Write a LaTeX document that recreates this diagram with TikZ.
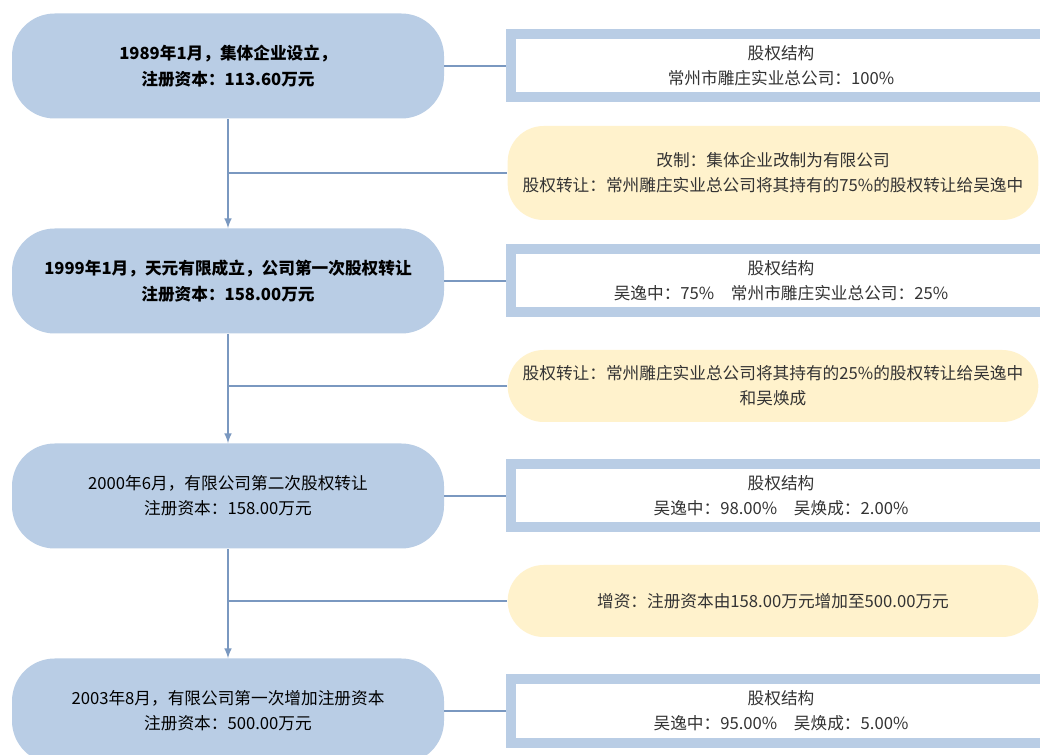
\documentclass[tikz,border=0pt]{standalone}
\usepackage{fontspec}
\setmainfont{Noto Sans CJK SC}
\usetikzlibrary{arrows}
\definecolor{stageblue}{RGB}{185,205,229}
\definecolor{noteyellow}{RGB}{255,242,204}
\definecolor{linkblue}{RGB}{122,152,192}
\begin{document}
\begin{tikzpicture}[x=0.75pt,y=-0.75pt,
	stage/.style={fill=stageblue,rounded corners=32pt,minimum width=324pt,minimum height=78.75pt,align=center,text=black,font=\fontsize{12.5}{19}\selectfont},
	share/.style={draw=stageblue,line width=7.5pt,fill=white,minimum width=405pt,minimum height=47.25pt,align=center,text=black!80,font=\fontsize{12.5}{19}\selectfont},
	note/.style={fill=noteyellow,rounded corners=27pt,minimum width=398pt,minimum height=54pt,inner sep=2pt,align=center,text=black!80,font=\fontsize{12.5}{19}\selectfont},
	link/.style={draw=linkblue,line width=1.5pt}]
	\useasboundingbox[fill=white] (0,0) rectangle (1040,755);
	%% the stages
	\node[stage] (stage1) at (228,66) {\bfseries 1989年1月，集体企业设立，\\ \bfseries 注册资本：113.60万元};
	\node[stage] (stage2) at (228,281) {\bfseries 1999年1月，天元有限成立，公司第一次股权转让\\ \bfseries 注册资本：158.00万元};
	\node[stage] (stage3) at (228,496) {2000年6月，有限公司第二次股权转让\\ 注册资本：158.00万元};
	\node[stage] (stage4) at (228,711) {2003年8月，有限公司第一次增加注册资本\\ 注册资本：500.00万元};
	%% the share structures
	\node[share] (share1) at (781,66) {股权结构\\ 常州市雕庄实业总公司：100\%};
	\node[share] (share2) at (781,281) {股权结构\\ 吴逸中：75\%\quad 常州市雕庄实业总公司：25\%};
	\node[share] (share3) at (781,496) {股权结构\\ 吴逸中：98.00\%\quad 吴焕成：2.00\%};
	\node[share] (share4) at (781,711) {股权结构\\ 吴逸中：95.00\%\quad 吴焕成：5.00\%};
	%% the changes
	\node[note,minimum height=70.5pt] (note1) at (773,173) {改制：集体企业改制为有限公司\\ 股权转让：常州雕庄实业总公司将其持有的75\%的股权转让给吴逸中};
	\node[note] (note2) at (773,386) {股权转让：常州雕庄实业总公司将其持有的25\%的股权转让给吴逸中\\ 和吴焕成};
	\node[note] (note3) at (773,601) {增资：注册资本由158.00万元增加至500.00万元};
	%% the connectors
	\coordinate (fork1) at (stage1.south |- note1.west);
	\coordinate (fork2) at (stage2.south |- note2.west);
	\coordinate (fork3) at (stage3.south |- note3.west);
	\draw[link,-latex] (stage1) -- (stage2);
	\draw[link,-latex] (stage2) -- (stage3);
	\draw[link,-latex] (stage3) -- (stage4);
	\draw[link] (fork1) -- (note1);
	\draw[link] (fork2) -- (note2);
	\draw[link] (fork3) -- (note3);
	\draw[link] (stage1) -- (share1);
	\draw[link] (stage2) -- (share2);
	\draw[link] (stage3) -- (share3);
	\draw[link] (stage4) -- (share4);
\end{tikzpicture}
\end{document}
